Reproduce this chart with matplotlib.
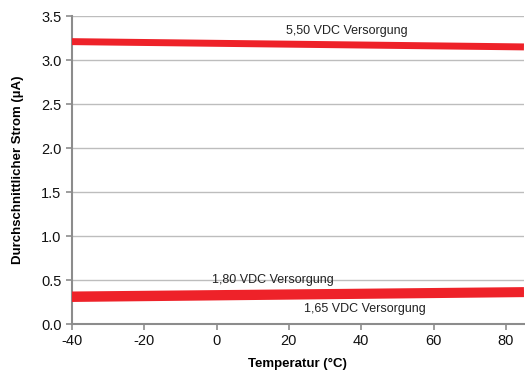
import matplotlib
matplotlib.use('Agg')
import matplotlib.pyplot as plt

# Supply current vs temperature
temp = [-40, 85]
i_550 = [3.21, 3.15]
i_180 = [0.33, 0.38]
i_165 = [0.29, 0.345]

labels = ['5,50 VDC Versorgung', '1,80 VDC Versorgung', '1,65 VDC Versorgung']
label_pos = [(36, 3.33), (15.5, 0.5), (41, 0.17)]

plt.rcParams['font.family'] = ['Liberation Sans', 'DejaVu Sans']
plt.rcParams['axes.unicode_minus'] = False

fig = plt.figure(figsize=(5.25, 3.75), dpi=100)
ax = fig.add_axes([0.137, 0.136, 0.861, 0.821])

red = '#ee2229'
for series in (i_550, i_180, i_165):
    ax.plot(temp, series, color=red, linewidth=5, solid_capstyle='butt', zorder=3)

for text, (x, y) in zip(labels, label_pos):
    ax.text(x, y, text, ha='center', va='center', fontsize=9, color='#222222', zorder=4)

ax.set_xlim(-40, 85)
ax.set_ylim(0, 3.5)
ax.set_xticks(range(-40, 81, 20))
ax.set_yticks([i * 0.5 for i in range(8)])
ax.set_yticklabels(['%.1f' % (i * 0.5) for i in range(8)])

ax.grid(axis='y', color='#bdbdbd', linewidth=1.0, zorder=0)
for side in ('top', 'right'):
    ax.spines[side].set_visible(False)
for side in ('left', 'bottom'):
    ax.spines[side].set_color('#8c8c8c')
    ax.spines[side].set_linewidth(1.5)
ax.tick_params(axis='both', colors='#8c8c8c', labelcolor='#111111',
               labelsize=10.5, length=4, width=1.2)

ax.set_xlabel('Temperatur (°C)', fontsize=9.5, fontweight='bold', labelpad=7)
ax.set_ylabel('Durchschnittlicher Strom (µA)', fontsize=9.5, fontweight='bold', labelpad=12)

fig.savefig('out.png', dpi=100)
